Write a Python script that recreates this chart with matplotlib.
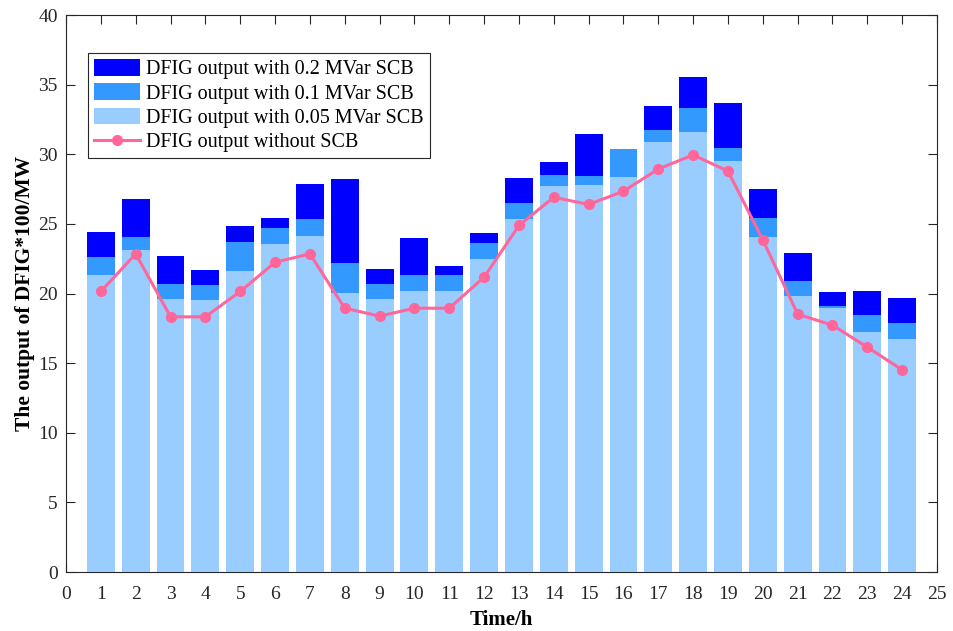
import matplotlib
matplotlib.use("Agg")
import matplotlib.pyplot as plt
import numpy as np

plt.rcParams["font.family"] = ["Liberation Serif", "DejaVu Serif"]
plt.rcParams["mathtext.fontset"] = "stix"

# 数据：每小时 DFIG 出力
hours = np.arange(1, 25)
scb_02 = [24.41, 26.78, 22.68, 21.68, 24.84, 25.41, 27.85, 28.21, 21.75, 23.97, 21.97, 24.34,
          28.28, 29.43, 31.44, 30.37, 33.45, 35.53, 33.67, 27.49, 22.90, 20.10, 20.17, 19.67]
scb_01 = [22.61, 24.05, 20.67, 20.60, 23.69, 24.69, 25.34, 22.18, 20.67, 21.32, 21.32, 23.62,
          26.49, 28.50, 28.43, 30.37, 31.73, 33.31, 30.44, 25.41, 20.89, 19.10, 18.45, 17.88]
scb_005 = [21.32, 23.12, 19.60, 19.53, 21.61, 23.55, 24.12, 20.03, 19.60, 20.17, 20.17, 22.47,
           25.34, 27.71, 27.78, 28.36, 30.87, 31.59, 29.50, 24.05, 19.81, 18.95, 17.23, 16.73]
no_scb = [20.15, 22.85, 18.33, 18.33, 20.15, 22.25, 22.85, 18.95, 18.38, 18.95, 18.95, 21.18,
          24.89, 26.92, 26.40, 27.35, 28.95, 29.96, 28.79, 23.86, 18.52, 17.73, 16.15, 14.52]

fig = plt.figure(figsize=(9.54, 6.31), dpi=100)
ax = fig.add_axes([0.0692, 0.0935, 0.913, 0.8825])

w = 0.8
b1 = ax.bar(hours, scb_02, width=w, color="#0000FF", label="DFIG output with 0.2 MVar SCB", zorder=2)
b2 = ax.bar(hours, scb_01, width=w, color="#3399FF", label="DFIG output with 0.1 MVar SCB", zorder=3)
b3 = ax.bar(hours, scb_005, width=w, color="#99CCFF", label="DFIG output with 0.05 MVar SCB", zorder=4)
ln, = ax.plot(hours, no_scb, color="#FF6699", lw=2.2, marker="o", markersize=7,
              label="DFIG output without SCB", zorder=5)

ax.set_xlim(0, 25)
ax.set_ylim(0, 40)
ax.set_xticks(np.arange(0, 26))
ax.set_yticks(np.arange(0, 41, 5))
ax.tick_params(direction="in", top=True, right=True, labelsize=14, length=6.5,
               width=0.8, colors="#262626", labelcolor="#262626")
ax.tick_params(axis="x", pad=10)
ax.tick_params(axis="y", pad=6)
for s in ax.spines.values():
    s.set_linewidth(0.8)
    s.set_color("#262626")

ax.set_xlabel("Time/h", fontsize=15, fontweight="bold", labelpad=5)
ax.set_ylabel("The output of DFIG*100/MW", fontsize=15.5, fontweight="bold", labelpad=2)

leg = ax.legend(handles=[b1, b2, b3, ln], loc="upper left", bbox_to_anchor=(0.0253, 0.932),
                fontsize=14.5, frameon=True, fancybox=False, edgecolor="#262626", framealpha=1,
                borderpad=0.3, labelspacing=0.2, handlelength=2.3, handleheight=0.9,
                handletextpad=0.3, borderaxespad=0)
leg.get_frame().set_linewidth(0.8)

fig.savefig("out.png", dpi=100, facecolor="white")
